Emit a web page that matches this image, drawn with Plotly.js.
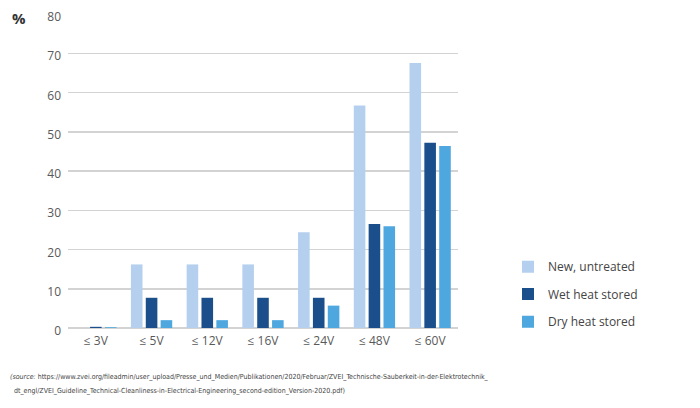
<!DOCTYPE html>
<html><head><meta charset="utf-8">
<script src="https://cdn.plot.ly/plotly-3.0.1.min.js"></script>
<style>html,body{margin:0;padding:0;background:#fff;}#chart{width:700px;height:408px;}</style>
</head><body><div id="chart"></div>
<script>
const categories = ["≤ 3V","≤ 5V","≤ 12V","≤ 16V","≤ 24V","≤ 48V","≤ 60V"];
const newUntreated = [0, 16.2, 16.2, 16.2, 24.4, 56.7, 67.5];
const wetHeatStored = [0.3, 7.7, 7.7, 7.7, 7.7, 26.5, 47.2];
const dryHeatStored = [0.2, 2.0, 2.0, 2.0, 5.7, 25.9, 46.4];
const seriesNames = ["New, untreated","Wet heat stored","Dry heat stored"];
const yTicks = [0,10,20,30,40,50,60,70,80];

const colors = ["#b4d0ee","#1b4f8b","#4ea8df"];
const series = [newUntreated, wetHeatStored, dryHeatStored];
const legendIds = ["legend","legend2","legend3"];

const traces = series.map((vals,i)=>({
  type:"bar", x:categories, y:vals, name:seriesNames[i],
  marker:{color:colors[i], line:{width:0}}, legend:legendIds[i],
  hoverinfo:"skip"
}));

const M = {l:68, r:242, t:14, b:80};
const PW = 700-M.l-M.r, PH = 408-M.t-M.b;
const px = v => (v-M.l)/PW;
const py = v => (408-M.b-v)/PH;

const legendFont = {family:"Open Sans, sans-serif", size:12, color:"#444"};
function lg(yc){ return {xref:"container", yref:"container", x:508/700, y:1-yc/408, xanchor:"left", yanchor:"middle",
  font:legendFont, bgcolor:"rgba(0,0,0,0)", borderwidth:0, itemclick:false, itemdoubleclick:false}; }

const srcFont = {family:"Liberation Sans Narrow, DejaVu Sans Condensed, sans-serif", size:7, color:"#444"};

const layout = {
  width:700, height:408,
  margin:{l:M.l, r:M.r, t:M.t, b:M.b, pad:0},
  paper_bgcolor:"#fff", plot_bgcolor:"#fff",
  barmode:"group", bargap:0.2, bargroupgap:0.22,
  font:{family:"Open Sans, sans-serif", size:12, color:"#595959"},
  showlegend:true,
  legend:lg(266.7), legend2:lg(294), legend3:lg(321.7),
  xaxis:{type:"category", showgrid:false, zeroline:false, showline:false, ticks:"",
    tickfont:{size:12, color:"#595959"}, ticklabelstandoff:4},
  yaxis:{range:[0,80], tickvals:yTicks, ticktext:yTicks.map(String), showgrid:true, gridcolor:"#d3d3d3", gridwidth:1.5,
    zeroline:true, zerolinecolor:"#d3d3d3", zerolinewidth:1.5, showline:false, ticks:"",
    ticklabelstandoff:6, ticklabelshift:3, tickfont:{size:12, color:"#595959"}},
  annotations:[
    {xref:"paper", yref:"paper", x:px(18.5), y:py(18), xanchor:"center", yanchor:"middle",
     text:"<b>%</b>", showarrow:false, font:{family:"Open Sans, sans-serif", size:15, color:"#333"}},
    {xref:"paper", yref:"paper", x:px(8), y:py(376.7), xanchor:"left", yanchor:"middle", showarrow:false, align:"left",
     text:"<i>(source:</i> https://www.zvei.org/fileadmin/user_upload/Presse_und_Medien/Publikationen/2020/Februar/ZVEI_Technische-Sauberkeit-in-der-Elektrotechnik_",
     font:srcFont},
    {xref:"paper", yref:"paper", x:px(12), y:py(391), xanchor:"left", yanchor:"middle", showarrow:false, align:"left",
     text:"dt_engl/ZVEI_Guideline_Technical-Cleanliness-in-Electrical-Engineering_second-edition_Version-2020.pdf)",
     font:srcFont}
  ]
};
Plotly.newPlot("chart", traces, layout, {staticPlot:true, displayModeBar:false});
</script></body></html>
